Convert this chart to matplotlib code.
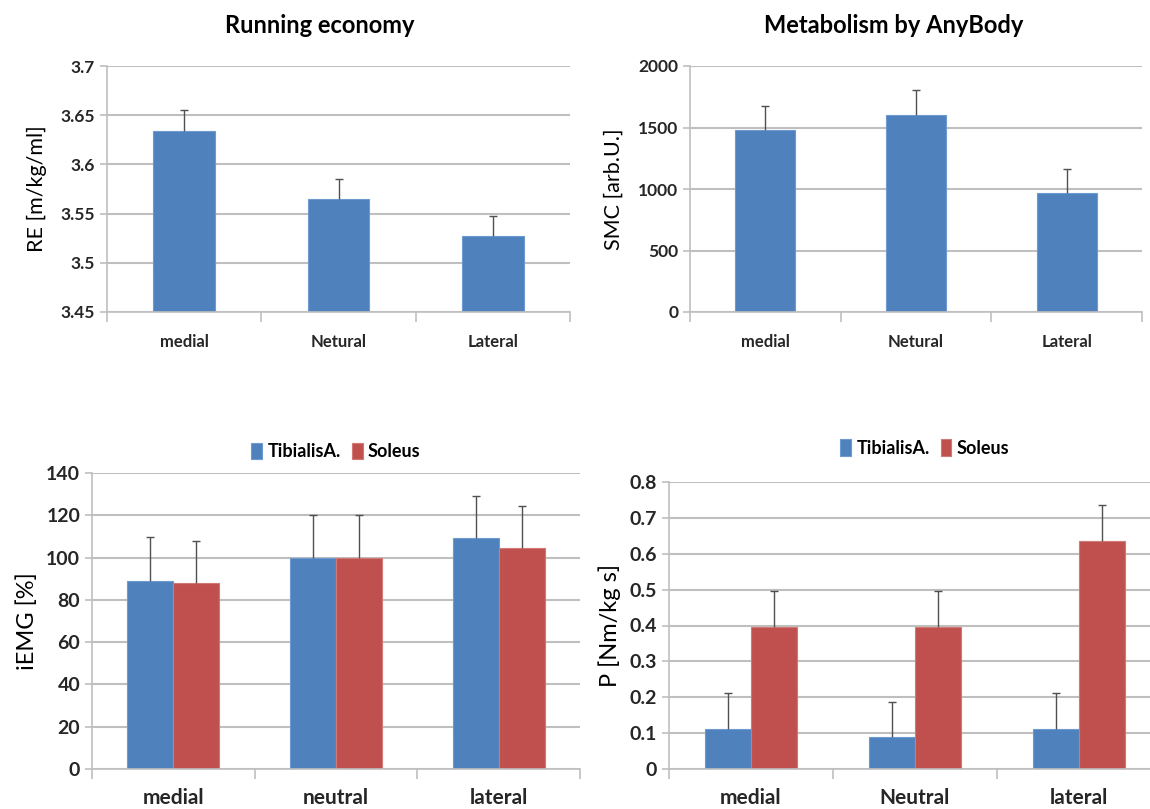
import numpy as np
import matplotlib.pyplot as plt

plt.rcParams['font.family'] = ['Lato', 'DejaVu Sans']

# top charts
cats_top = ["medial", "Netural", "Lateral"]
re_vals = [3.634, 3.5645, 3.527]
re_err = [0.021, 0.021, 0.021]
smc_vals = [1478, 1600, 970]
smc_err = [200, 208, 195]

# bottom charts
cats_emg = ["medial", "neutral", "lateral"]
emg_ta = [89.0, 100.0, 109.2]
emg_ta_err = [20.5, 20.0, 20.0]
emg_sol = [87.8, 100.0, 104.3]
emg_sol_err = [20.0, 20.0, 20.2]

cats_p = ["medial", "Neutral", "lateral"]
p_ta = [0.111, 0.088, 0.111]
p_ta_err = [0.1, 0.1, 0.1]
p_sol = [0.395, 0.395, 0.635]
p_sol_err = [0.1, 0.1, 0.1]

BLUE = "#4F81BD"
RED = "#C0504D"
GRID = "#bfbfbf"
ERR = "#505050"
ERR_KW = dict(ecolor=ERR, elinewidth=1, capsize=3, capthick=1)


def hide_lower_cap(container):
    # only the "plus" side is shown, drop the cap sitting on the bar top
    caps = container.errorbar.lines[1]
    if len(caps) > 0:
        caps[0].set_visible(False)


def style_axes(ax, cats, tick_fs, label_fs, pad=14):
    n = len(cats)
    ax.set_xlim(-0.5, n - 0.5)
    ax.set_xticks(range(n))
    ax.set_xticklabels(cats, fontsize=label_fs, fontweight="bold", color="#262626")
    ax.set_xticks(np.arange(-0.5, n, 1.0), minor=True)
    ax.tick_params(axis="x", which="major", length=0, pad=pad)
    ax.tick_params(axis="x", which="minor", length=7, color=GRID, width=1.2)
    ax.tick_params(axis="y", length=5, color=GRID, width=1.2, labelsize=tick_fs)
    for lbl in ax.get_yticklabels():
        lbl.set_fontweight("bold")
        lbl.set_color("#262626")
    ax.grid(axis="y", color=GRID, linewidth=1.5)
    ax.set_axisbelow(True)
    for s in ["top", "right"]:
        ax.spines[s].set_visible(False)
    for s in ["left", "bottom"]:
        ax.spines[s].set_color(GRID)
        ax.spines[s].set_linewidth(1.2)


def single_bars(ax, vals, errs, ymin, ymax, step):
    x = np.arange(len(vals))
    c = ax.bar(x, np.array(vals) - ymin, bottom=ymin, width=0.4, color=BLUE,
               edgecolor="#6d9bd1", linewidth=0.8,
               yerr=[np.zeros(len(errs)), errs], error_kw=ERR_KW)
    hide_lower_cap(c)
    ax.set_ylim(ymin, ymax)
    ax.set_yticks(np.arange(ymin, ymax + step / 2, step))


def double_bars(ax, v1, e1, v2, e2):
    x = np.arange(len(v1))
    w = 0.283
    c1 = ax.bar(x - w / 2, v1, width=w, color=BLUE, edgecolor="#6d9bd1", linewidth=0.8,
                label="TibialisA.", yerr=[np.zeros(len(e1)), e1], error_kw=ERR_KW)
    c2 = ax.bar(x + w / 2, v2, width=w, color=RED, edgecolor="#d27976", linewidth=0.8,
                label="Soleus", yerr=[np.zeros(len(e2)), e2], error_kw=ERR_KW)
    hide_lower_cap(c1)
    hide_lower_cap(c2)


fig = plt.figure(figsize=(11.5, 8.09), dpi=100)

# Running economy
ax1 = fig.add_axes([107 / 1150, 1 - 312 / 809, 463 / 1150, 246 / 809])
single_bars(ax1, re_vals, re_err, 3.45, 3.7, 0.05)
ax1.set_yticklabels(["3.45", "3.5", "3.55", "3.6", "3.65", "3.7"])
style_axes(ax1, cats_top, 12.5, 12, pad=16)
ax1.set_ylabel("RE [m/kg/ml]", fontsize=15.5, labelpad=10)
ax1.set_title("Running economy", fontsize=17, fontweight="bold", pad=24, x=0.46)

# Metabolism by AnyBody
ax2 = fig.add_axes([690 / 1150, 1 - 312 / 809, 452 / 1150, 246 / 809])
single_bars(ax2, smc_vals, smc_err, 0, 2000, 500)
style_axes(ax2, cats_top, 12.5, 12, pad=16)
ax2.set_ylabel("SMC [arb.U.]", fontsize=15.5, labelpad=10)
ax2.set_title("Metabolism by AnyBody", fontsize=17, fontweight="bold", pad=24, x=0.45)

# iEMG
ax3 = fig.add_axes([92 / 1150, 1 - 769 / 809, 488 / 1150, 296 / 809])
double_bars(ax3, emg_ta, emg_ta_err, emg_sol, emg_sol_err)
ax3.set_ylim(0, 140)
ax3.set_yticks(np.arange(0, 141, 20))
style_axes(ax3, cats_emg, 14, 15)
ax3.set_ylabel("iEMG [%]", fontsize=17, labelpad=6)
ax3.legend(loc="lower center", bbox_to_anchor=(0.5, 1.0), ncol=2, frameon=False,
           prop=dict(size=13, weight="bold"), handlelength=0.6, handleheight=1.0,
           handletextpad=0.3, columnspacing=0.6, borderaxespad=0.3)

# Power
ax4 = fig.add_axes([669 / 1150, 1 - 769 / 809, 492 / 1150, 287 / 809])
double_bars(ax4, p_ta, p_ta_err, p_sol, p_sol_err)
ax4.set_ylim(0, 0.8)
ax4.set_yticks(np.arange(0, 0.81, 0.1))
ax4.set_yticklabels(["0", "0.1", "0.2", "0.3", "0.4", "0.5", "0.6", "0.7", "0.8"])
style_axes(ax4, cats_p, 14, 15)
ax4.set_ylabel("P [Nm/kg s]", fontsize=17, labelpad=6)
ax4.legend(loc="lower center", bbox_to_anchor=(0.52, 1.0), ncol=2, frameon=False,
           prop=dict(size=13, weight="bold"), handlelength=0.6, handleheight=1.0,
           handletextpad=0.3, columnspacing=0.6, borderaxespad=1.0)

fig.savefig("out.png", dpi=100)
